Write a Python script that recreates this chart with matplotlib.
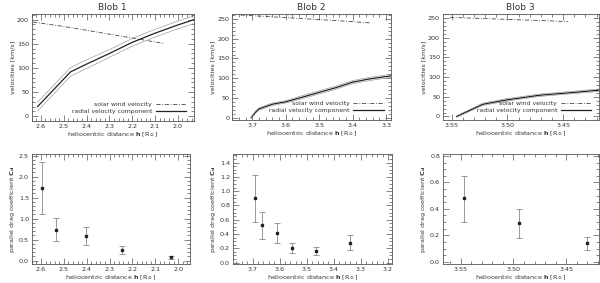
import numpy as np
from matplotlib import pyplot as plt
from matplotlib.ticker import MultipleLocator, FormatStrFormatter

# Blob 1
b1_sw_h = [2.635, 2.5, 2.4, 2.3, 2.2, 2.065]
b1_sw_v = [195, 186, 178, 170, 162, 151]
b1_rv_h = [2.615, 2.47, 2.4, 2.3, 2.2, 2.1, 2.0, 1.93]
b1_rv_v = [20, 92, 108, 130, 153, 172, 189, 200]
b1_rv_err = [9, 9, 9, 8, 8, 8, 8, 8]
b1_cd_h = [2.595, 2.535, 2.405, 2.245, 2.03]
b1_cd = [1.72, 0.74, 0.58, 0.25, 0.08]
b1_cd_lo = [1.10, 0.47, 0.37, 0.17, 0.05]
b1_cd_hi = [2.35, 1.01, 0.80, 0.35, 0.11]

# Blob 2
b2_sw_h = [3.735, 3.65, 3.55, 3.45, 3.345]
b2_sw_v = [260, 256, 251, 246, 240]
b2_rv_h = [3.703, 3.69, 3.68, 3.66, 3.64, 3.6, 3.55, 3.5, 3.45, 3.4, 3.35, 3.285]
b2_rv_v = [0, 14, 22, 28, 34, 40, 52, 64, 76, 90, 98, 106]
b2_rv_err = [2, 3, 3, 3, 3, 3, 4, 4, 4, 4, 4, 4]
b2_cd_h = [3.69, 3.665, 3.61, 3.555, 3.465, 3.34]
b2_cd = [0.90, 0.52, 0.41, 0.21, 0.16, 0.28]
b2_cd_lo = [0.57, 0.33, 0.27, 0.13, 0.10, 0.17]
b2_cd_hi = [1.23, 0.71, 0.56, 0.28, 0.22, 0.38]

# Blob 3
b3_sw_h = [3.5515, 3.52, 3.49, 3.46, 3.4455]
b3_sw_v = [252, 249, 246, 243, 241]
b3_rv_h = [3.5455, 3.522, 3.501, 3.471, 3.441, 3.417]
b3_rv_v = [0, 31, 42, 54, 61, 67]
b3_rv_err = [2, 3, 3, 3, 3, 3]
b3_cd_h = [3.547, 3.495, 3.43]
b3_cd = [0.48, 0.29, 0.14]
b3_cd_lo = [0.30, 0.18, 0.09]
b3_cd_hi = [0.65, 0.40, 0.19]

plt.rcParams["font.family"] = ["DejaVu Sans"]
plt.rcParams["font.size"] = 4.6
plt.rcParams["text.color"] = "#333333"
plt.rcParams["axes.labelcolor"] = "#333333"
plt.rcParams["xtick.color"] = "#555555"
plt.rcParams["ytick.color"] = "#555555"
plt.rcParams["xtick.labelcolor"] = "#333333"
plt.rcParams["ytick.labelcolor"] = "#333333"
plt.rcParams["axes.edgecolor"] = "#555555"
plt.rcParams["axes.linewidth"] = 0.6
plt.rcParams["mathtext.default"] = "regular"

xlabel = r"heliocentric distance $\mathbf{h}$ [R$_\odot$]"
fig = plt.figure(figsize=(6, 2.83), dpi=100)

top_pos = [[0.053, 0.572, 0.27, 0.379], [0.387, 0.576, 0.265, 0.375], [0.738, 0.576, 0.26, 0.375]]
bot_pos = [[0.053, 0.067, 0.263, 0.389], [0.388, 0.067, 0.265, 0.389], [0.738, 0.067, 0.26, 0.389]]

top_data = [
    (b1_sw_h, b1_sw_v, b1_rv_h, b1_rv_v, b1_rv_err, (2.64, 1.93), (-10, 212), 0.1, 0.02, 50, 10, "Blob 1", "%.1f"),
    (b2_sw_h, b2_sw_v, b2_rv_h, b2_rv_v, b2_rv_err, (3.76, 3.285), (-6, 263), 0.1, 0.02, 50, 10, "Blob 2", "%.1f"),
    (b3_sw_h, b3_sw_v, b3_rv_h, b3_rv_v, b3_rv_err, (3.558, 3.418), (-9, 261), 0.05, 0.01, 50, 10, "Blob 3", "%.2f"),
]
bot_data = [
    (b1_cd_h, b1_cd, b1_cd_lo, b1_cd_hi, (2.64, 1.95), (-0.08, 2.54), 0.1, 0.02, 0.5, 0.1, "%.1f"),
    (b2_cd_h, b2_cd, b2_cd_lo, b2_cd_hi, (3.773, 3.186), (-0.02, 1.52), 0.1, 0.02, 0.2, 0.05, "%.1f"),
    (b3_cd_h, b3_cd, b3_cd_lo, b3_cd_hi, (3.567, 3.419), (-0.017, 0.815), 0.05, 0.01, 0.2, 0.05, "%.2f"),
]


def style(ax, xmaj, xmin, ymaj, ymin, xfmt, yfmt):
    ax.xaxis.set_major_locator(MultipleLocator(xmaj))
    ax.xaxis.set_minor_locator(MultipleLocator(xmin))
    ax.yaxis.set_major_locator(MultipleLocator(ymaj))
    ax.yaxis.set_minor_locator(MultipleLocator(ymin))
    ax.xaxis.set_major_formatter(FormatStrFormatter(xfmt))
    ax.yaxis.set_major_formatter(FormatStrFormatter(yfmt))
    ax.tick_params(which="both", direction="in", top=True, right=True, width=0.5, pad=2)
    ax.tick_params(which="major", length=4)
    ax.tick_params(which="minor", length=2)


for pos, d in zip(top_pos, top_data):
    sw_h, sw_v, rv_h, rv_v, err, xl, yl, xmaj, xmin, ymaj, ymin, title, fmt = d
    ax = fig.add_axes(pos)
    rv_v = np.array(rv_v)
    err = np.array(err)
    ax.plot(sw_h, sw_v, color="#444444", lw=0.6, ls=(0, (5, 2, 1, 2)), label="solar wind velocity")
    ax.plot(rv_h, rv_v, color="#222222", lw=0.9, label="radial velocity component")
    ax.plot(rv_h, rv_v + err, color="#888888", lw=0.4)
    ax.plot(rv_h, rv_v - err, color="#888888", lw=0.4)
    ax.set_xlim(*xl)
    ax.set_ylim(*yl)
    style(ax, xmaj, xmin, ymaj, ymin, fmt, "%d")
    ax.set_title(title, fontsize=6.5, pad=3)
    ax.set_ylabel("velocities [km/s]", labelpad=1.5)
    ax.set_xlabel(xlabel, labelpad=1)
    ax.legend(loc="lower right", frameon=False, markerfirst=False, handlelength=5,
              fontsize=4.4, borderaxespad=0.8, labelspacing=0.2, handletextpad=0.6)

for pos, d in zip(bot_pos, bot_data):
    h, cd, lo, hi, xl, yl, xmaj, xmin, ymaj, ymin, fmt = d
    ax = fig.add_axes(pos)
    cd = np.array(cd)
    yerr = [cd - np.array(lo), np.array(hi) - cd]
    ax.errorbar(h, cd, yerr=yerr, fmt="s", ms=1.8, color="#222222", ecolor="#888888",
                elinewidth=0.6, capsize=2, capthick=0.6)
    ax.set_xlim(*xl)
    ax.set_ylim(*yl)
    style(ax, xmaj, xmin, ymaj, ymin, fmt, "%.1f")
    ax.set_ylabel(r"parallel drag coefficient $\mathbf{C_d}$", labelpad=1.5)
    ax.set_xlabel(xlabel, labelpad=1)

plt.savefig("out.png", dpi=100)
plt.close()
